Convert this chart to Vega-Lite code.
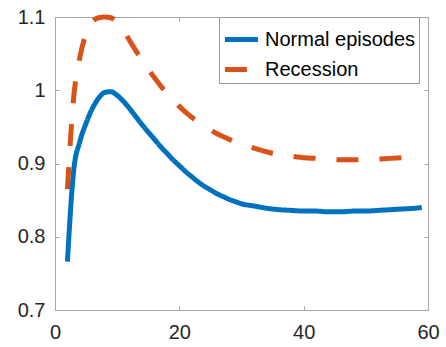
{
  "$schema": "https://vega.github.io/schema/vega-lite/v6.json",
  "autosize": "none",
  "width": 373,
  "height": 293,
  "padding": {"left": 55, "top": 17, "right": 18, "bottom": 37},
  "background": "white",
  "config": {
    "view": {"stroke": null},
    "font": "Liberation Sans",
    "axis": {"grid": false, "domainColor": "#a6a6a6", "tickColor": "#a6a6a6", "labelColor": "#262626", "labelFontSize": 20, "tickSize": -4, "title": null}
  },
  "data": {"values": [
    {"s":"Normal episodes","x":2,"y":0.766},{"s":"Normal episodes","x":3,"y":0.890},{"s":"Normal episodes","x":4,"y":0.930},{"s":"Normal episodes","x":5,"y":0.955},{"s":"Normal episodes","x":6,"y":0.975},{"s":"Normal episodes","x":7,"y":0.989},{"s":"Normal episodes","x":8,"y":0.997},{"s":"Normal episodes","x":9,"y":0.998},{"s":"Normal episodes","x":10,"y":0.993},{"s":"Normal episodes","x":11,"y":0.985},{"s":"Normal episodes","x":12,"y":0.975},{"s":"Normal episodes","x":13,"y":0.964},{"s":"Normal episodes","x":14,"y":0.953},{"s":"Normal episodes","x":15,"y":0.943},{"s":"Normal episodes","x":16,"y":0.933},{"s":"Normal episodes","x":17,"y":0.923},{"s":"Normal episodes","x":18,"y":0.914},{"s":"Normal episodes","x":19,"y":0.905},{"s":"Normal episodes","x":20,"y":0.897},{"s":"Normal episodes","x":21,"y":0.889},{"s":"Normal episodes","x":22,"y":0.882},{"s":"Normal episodes","x":23,"y":0.875},{"s":"Normal episodes","x":24,"y":0.869},{"s":"Normal episodes","x":25,"y":0.864},{"s":"Normal episodes","x":26,"y":0.859},{"s":"Normal episodes","x":27,"y":0.855},{"s":"Normal episodes","x":28,"y":0.851},{"s":"Normal episodes","x":29,"y":0.848},{"s":"Normal episodes","x":30,"y":0.845},{"s":"Normal episodes","x":32,"y":0.842},{"s":"Normal episodes","x":34,"y":0.839},{"s":"Normal episodes","x":36,"y":0.837},{"s":"Normal episodes","x":38,"y":0.836},{"s":"Normal episodes","x":40,"y":0.835},{"s":"Normal episodes","x":42,"y":0.835},{"s":"Normal episodes","x":44,"y":0.834},{"s":"Normal episodes","x":46,"y":0.834},{"s":"Normal episodes","x":48,"y":0.835},{"s":"Normal episodes","x":50,"y":0.835},{"s":"Normal episodes","x":52,"y":0.836},{"s":"Normal episodes","x":54,"y":0.837},{"s":"Normal episodes","x":56,"y":0.838},{"s":"Normal episodes","x":58,"y":0.839},{"s":"Normal episodes","x":59,"y":0.840},
    {"s":"Recession","x":2,"y":0.865},{"s":"Recession","x":3,"y":0.990},{"s":"Recession","x":4,"y":1.045},{"s":"Recession","x":5,"y":1.077},{"s":"Recession","x":6,"y":1.093},{"s":"Recession","x":7,"y":1.099},{"s":"Recession","x":8,"y":1.100},{"s":"Recession","x":9,"y":1.099},{"s":"Recession","x":10,"y":1.092},{"s":"Recession","x":11,"y":1.082},{"s":"Recession","x":12,"y":1.068},{"s":"Recession","x":13,"y":1.054},{"s":"Recession","x":14,"y":1.041},{"s":"Recession","x":15,"y":1.029},{"s":"Recession","x":16,"y":1.017},{"s":"Recession","x":17,"y":1.006},{"s":"Recession","x":18,"y":0.996},{"s":"Recession","x":19,"y":0.987},{"s":"Recession","x":20,"y":0.978},{"s":"Recession","x":21,"y":0.970},{"s":"Recession","x":22,"y":0.963},{"s":"Recession","x":23,"y":0.957},{"s":"Recession","x":24,"y":0.951},{"s":"Recession","x":25,"y":0.946},{"s":"Recession","x":26,"y":0.941},{"s":"Recession","x":27,"y":0.937},{"s":"Recession","x":28,"y":0.933},{"s":"Recession","x":29,"y":0.929},{"s":"Recession","x":30,"y":0.926},{"s":"Recession","x":32,"y":0.921},{"s":"Recession","x":34,"y":0.916},{"s":"Recession","x":36,"y":0.912},{"s":"Recession","x":38,"y":0.910},{"s":"Recession","x":40,"y":0.908},{"s":"Recession","x":42,"y":0.907},{"s":"Recession","x":44,"y":0.906},{"s":"Recession","x":46,"y":0.905},{"s":"Recession","x":48,"y":0.905},{"s":"Recession","x":50,"y":0.905},{"s":"Recession","x":52,"y":0.906},{"s":"Recession","x":54,"y":0.907},{"s":"Recession","x":56,"y":0.908},{"s":"Recession","x":58,"y":0.909},{"s":"Recession","x":59,"y":0.909}
  ]},
  "layer": [
    {
      "mark": {"type": "line", "strokeWidth": 5, "strokeCap": "butt", "clip": false, "interpolate": "monotone"},
      "encoding": {
        "x": {"field": "x", "type": "quantitative", "scale": {"domain": [0, 60], "nice": false}, "axis": {"values": [0, 20, 40, 60], "labelPadding": 16, "labelFlush": false}},
        "y": {"field": "y", "type": "quantitative", "scale": {"domain": [0.7, 1.1], "nice": false, "zero": false}, "axis": {"values": [0.7, 0.8, 0.9, 1.0, 1.1], "format": ".1~f", "labelPadding": 14, "labelFlush": false}},
        "color": {"field": "s", "type": "nominal", "scale": {"domain": ["Normal episodes", "Recession"], "range": ["#0072BD", "#D95319"]},
          "legend": {"title": null, "orient": "none", "legendX": 164, "legendY": 0, "symbolType": "stroke", "symbolSize": 1100, "symbolStrokeWidth": 5, "labelFontSize": 20, "labelColor": "#000000", "labelOffset": 4, "strokeColor": "#999999", "fillColor": "white", "padding": 3, "rowPadding": -5, "labelLimit": 300}},
        "strokeDash": {"field": "s", "type": "nominal", "scale": {"domain": ["Normal episodes", "Recession"], "range": [[1, 0], [22, 21]]},
          "legend": {"title": null, "orient": "none", "legendX": 164, "legendY": 0, "symbolType": "stroke", "symbolSize": 1100, "symbolStrokeWidth": 5, "labelFontSize": 20, "labelColor": "#000000", "labelOffset": 4, "strokeColor": "#999999", "fillColor": "white", "padding": 3, "rowPadding": -5, "labelLimit": 300}}
      }
    },
    {
      "mark": {"type": "line", "opacity": 0},
      "encoding": {
        "x": {"field": "x", "type": "quantitative", "axis": {"orient": "top", "values": [0, 20, 40, 60], "labels": false}},
        "y": {"field": "y", "type": "quantitative", "axis": {"orient": "right", "values": [0.7, 0.8, 0.9, 1.0, 1.1], "labels": false}},
        "detail": {"field": "s"}
      }
    }
  ],
  "resolve": {"axis": {"x": "independent", "y": "independent"}}
}
